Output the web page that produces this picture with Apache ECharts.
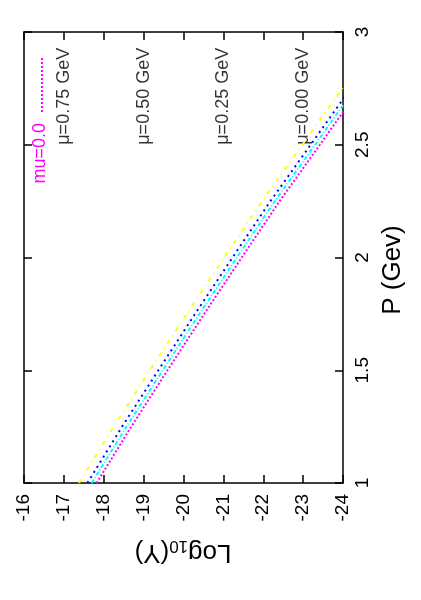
<!DOCTYPE html>
<html><head><meta charset="utf-8">
<script src="https://cdn.jsdelivr.net/npm/echarts@6/dist/echarts.min.js"></script>
<style>html,body{margin:0;padding:0;background:#fff}#c{width:421px;height:600px}</style>
</head><body><div id="c"></div>
<script>
// P (GeV) sample points
const pValues = [1.0, 1.25, 1.5, 1.75, 2.0, 2.25, 2.5, 2.75, 3.0];
// Log10(Y) for each mu
const logY_mu000 = [-17.82, -18.69, -19.60, -20.52, -21.46, -22.41, -23.42, -24.42, -25.42];
const logY_mu025 = [-17.70, -18.57, -19.48, -20.40, -21.34, -22.29, -23.30, -24.30, -25.30];
const logY_mu050 = [-17.59, -18.46, -19.37, -20.29, -21.23, -22.18, -23.19, -24.19, -25.19];
const logY_mu075 = [-17.38, -18.25, -19.16, -20.08, -21.02, -21.97, -22.98, -23.98, -24.98];
// in-plot text labels
const muLabels = ['μ=0.75 GeV', 'μ=0.50 GeV', 'μ=0.25 GeV', 'μ=0.00 GeV'];
const muLabelLogY = [-17, -19, -21, -23];
const muLabelP = [2.5, 2.5, 2.5, 2.5];
const legendText = 'mu=0.0';

const FONT = 'Liberation Sans, Arial, Helvetica, sans-serif';
const pairs = arr => arr.map((v, i) => [v, pValues[i]]);

const axisCommon = {
  type: 'value', splitLine: {show: false},
  axisLine: {show: true, onZero: false, lineStyle: {color: '#000', width: 1.5}},
  axisTick: {show: true, inside: true, length: 8, lineStyle: {color: '#000', width: 1.5}}
};

const chart = echarts.init(document.getElementById('c'), null, {renderer: 'canvas'});
chart.setOption({
  animation: false,
  backgroundColor: '#fff',
  grid: {left: 24, right: 78, top: 32, bottom: 117, containLabel: false},
  xAxis: [
    Object.assign({}, axisCommon, {position: 'bottom', min: -24, max: -16, interval: 1, inverse: true,
      axisLabel: {rotate: 90, fontSize: 19, color: '#000', margin: 11, fontFamily: FONT}}),
    Object.assign({}, axisCommon, {position: 'top', min: -24, max: -16, interval: 1, inverse: true,
      axisLabel: {show: false}})
  ],
  yAxis: [
    Object.assign({}, axisCommon, {position: 'right', min: 1, max: 3, interval: 0.5,
      axisLabel: {rotate: 90, fontSize: 19, color: '#000', margin: 10, fontFamily: FONT}}),
    Object.assign({}, axisCommon, {position: 'left', min: 1, max: 3, interval: 0.5,
      axisLabel: {show: false}})
  ],
  series: [
    {type: 'line', name: 'mu=0.00', data: pairs(logY_mu000), showSymbol: false, silent: true,
      lineStyle: {color: '#ff00ff', width: 2, type: [2, 2]}},
    {type: 'line', name: 'mu=0.25', data: pairs(logY_mu025), showSymbol: false, silent: true,
      lineStyle: {color: '#00ffff', width: 2, type: [4, 2, 1, 2]}},
    {type: 'line', name: 'mu=0.50', data: pairs(logY_mu050), showSymbol: false, silent: true,
      lineStyle: {color: '#0000ff', width: 2, type: [2, 4]}},
    {type: 'line', name: 'mu=0.75', data: pairs(logY_mu075), showSymbol: false, silent: true,
      lineStyle: {color: '#ffff00', width: 2, type: [4, 5, 1, 5]}},
    {type: 'scatter', silent: true, symbolSize: 0,
      data: muLabelLogY.map((x, i) => ({value: [x, muLabelP[i]], label: {formatter: muLabels[i]}})),
      label: {show: true, position: 'inside', rotate: 90, align: 'left', verticalAlign: 'middle',
        fontSize: 18, color: '#000', fontFamily: FONT}}
  ],
  graphic: [
    {type: 'text', x: 40, y: 123, rotation: Math.PI / 2,
      style: {text: legendText, fill: '#ff00ff', font: '18px ' + FONT, align: 'right', verticalAlign: 'middle'}},
    {type: 'line', shape: {x1: 42, y1: 112, x2: 42, y2: 58},
      style: {stroke: '#ff00ff', lineWidth: 2, lineDash: [2, 2]}},
    {type: 'text', x: 393, y: 270, rotation: Math.PI / 2,
      style: {text: 'P (Gev)', fill: '#000', font: '26px ' + FONT, align: 'center', verticalAlign: 'middle'}},
    {type: 'text', x: 183, y: 552, rotation: Math.PI,
      style: {text: '{a|Log}{s|10}{a|(Y)}', align: 'center', verticalAlign: 'middle',
        rich: {a: {fontSize: 26, fontFamily: FONT, fill: '#000', lineHeight: 30, verticalAlign: 'middle'},
               s: {fontSize: 17, fontFamily: FONT, fill: '#000', lineHeight: 30, verticalAlign: 'bottom', padding: [0, 0, 0, 0]}}}}
  ]
});
</script></body></html>
